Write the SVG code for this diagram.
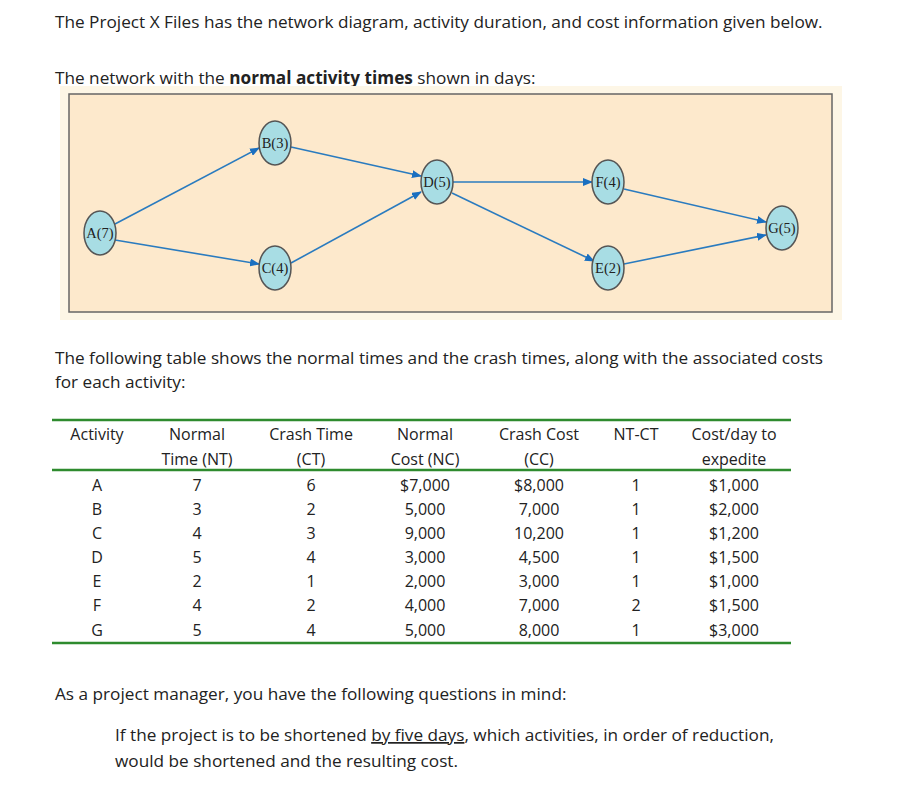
<svg xmlns="http://www.w3.org/2000/svg" width="909" height="811" viewBox="0 0 909 811">
<style>
.t{font-family:"Open Sans",Lato,sans-serif;font-size:17.2px;fill:#222}
.c{font-family:"Open Sans",Lato,sans-serif;font-size:16px;fill:#222;text-anchor:middle}
.n ellipse{fill:#a8dde4;stroke:#555;stroke-width:1.5}
.n text{font-family:"Liberation Serif",serif;font-size:14.5px;fill:#222;text-anchor:middle}
.e line{stroke:#2a7bbf;stroke-width:1.6;marker-end:url(#ah)}
.g{stroke:#2e8b2e;stroke-width:2.5}
</style>
<defs><marker id="ah" markerWidth="10" markerHeight="8" refX="9" refY="4" orient="auto" markerUnits="userSpaceOnUse"><path d="M0,0 L10,4 L0,8 Z" fill="#1a6fc0"/></marker></defs>
<rect width="909" height="811" fill="#fff"/>
<text class="t" x="55" y="28">The Project X Files has the network diagram, activity duration, and cost information given below.</text>
<text class="t" x="55" y="84">The network with the <tspan font-weight="bold">normal activity times</tspan> shown in days:</text>
<rect x="60" y="86" width="782" height="234" fill="#fdf6e6"/>
<rect x="69" y="94" width="763" height="218" fill="#fde9cc" stroke="#666" stroke-width="1.5"/>
<g class="e">
<line x1="115" y1="224" x2="259" y2="148"/>
<line x1="115" y1="240" x2="259" y2="264"/>
<line x1="291" y1="147" x2="421" y2="176"/>
<line x1="291" y1="263" x2="421" y2="192"/>
<line x1="453" y1="182" x2="592" y2="182"/>
<line x1="452" y1="193" x2="594" y2="261"/>
<line x1="624" y1="189" x2="766" y2="222"/>
<line x1="624" y1="264" x2="766" y2="235"/>
</g>
<g id="A" class="n"><ellipse cx="100" cy="233" rx="16" ry="22"/><text x="100" y="238">A(7)</text></g>
<g id="B" class="n"><ellipse cx="275" cy="143" rx="16" ry="22"/><text x="275" y="148">B(3)</text></g>
<g id="C" class="n"><ellipse cx="275" cy="268" rx="16" ry="22"/><text x="275" y="273">C(4)</text></g>
<g id="D" class="n"><ellipse cx="437" cy="182" rx="16" ry="22"/><text x="437" y="187">D(5)</text></g>
<g id="F" class="n"><ellipse cx="608" cy="182" rx="16" ry="22"/><text x="608" y="187">F(4)</text></g>
<g id="E" class="n"><ellipse cx="608" cy="268" rx="16" ry="22"/><text x="608" y="273">E(2)</text></g>
<g id="G" class="n"><ellipse cx="782" cy="228" rx="16" ry="22"/><text x="782" y="233">G(5)</text></g>
<text class="t" x="55" y="364">The following table shows the normal times and the crash times, along with the associated costs</text>
<text class="t" x="55" y="388">for each activity:</text>
<line class="g" x1="52" y1="420" x2="791" y2="420"/>
<line class="g" x1="52" y1="470" x2="791" y2="470" stroke-width="2"/>
<line class="g" x1="52" y1="643" x2="791" y2="643"/>
<g class="c">
<text x="97" y="440">Activity</text><text x="197" y="440">Normal</text><text x="311" y="440">Crash Time</text><text x="425" y="440">Normal</text><text x="539" y="440">Crash Cost</text><text x="636" y="440">NT-CT</text><text x="734" y="440">Cost/day to</text>
<text x="197" y="465">Time (NT)</text><text x="311" y="465">(CT)</text><text x="425" y="465">Cost (NC)</text><text x="539" y="465">(CC)</text><text x="734" y="465">expedite</text>
<text x="97" y="491">A</text><text x="197" y="491">7</text><text x="311" y="491">6</text><text x="425" y="491">$7,000</text><text x="539" y="491">$8,000</text><text x="636" y="491">1</text><text x="734" y="491">$1,000</text>
<text x="97" y="515">B</text><text x="197" y="515">3</text><text x="311" y="515">2</text><text x="425" y="515">5,000</text><text x="539" y="515">7,000</text><text x="636" y="515">1</text><text x="734" y="515">$2,000</text>
<text x="97" y="539">C</text><text x="197" y="539">4</text><text x="311" y="539">3</text><text x="425" y="539">9,000</text><text x="539" y="539">10,200</text><text x="636" y="539">1</text><text x="734" y="539">$1,200</text>
<text x="97" y="563">D</text><text x="197" y="563">5</text><text x="311" y="563">4</text><text x="425" y="563">3,000</text><text x="539" y="563">4,500</text><text x="636" y="563">1</text><text x="734" y="563">$1,500</text>
<text x="97" y="587">E</text><text x="197" y="587">2</text><text x="311" y="587">1</text><text x="425" y="587">2,000</text><text x="539" y="587">3,000</text><text x="636" y="587">1</text><text x="734" y="587">$1,000</text>
<text x="97" y="611">F</text><text x="197" y="611">4</text><text x="311" y="611">2</text><text x="425" y="611">4,000</text><text x="539" y="611">7,000</text><text x="636" y="611">2</text><text x="734" y="611">$1,500</text>
<text x="97" y="636">G</text><text x="197" y="636">5</text><text x="311" y="636">4</text><text x="425" y="636">5,000</text><text x="539" y="636">8,000</text><text x="636" y="636">1</text><text x="734" y="636">$3,000</text>
</g>
<text class="t" x="55" y="700">As a project manager, you have the following questions in mind:</text>
<text class="t" x="115" y="741">If the project is to be shortened <tspan text-decoration="underline">by five days</tspan>, which activities, in order of reduction,</text>
<text class="t" x="115" y="767">would be shortened and the resulting cost.</text>
</svg>
